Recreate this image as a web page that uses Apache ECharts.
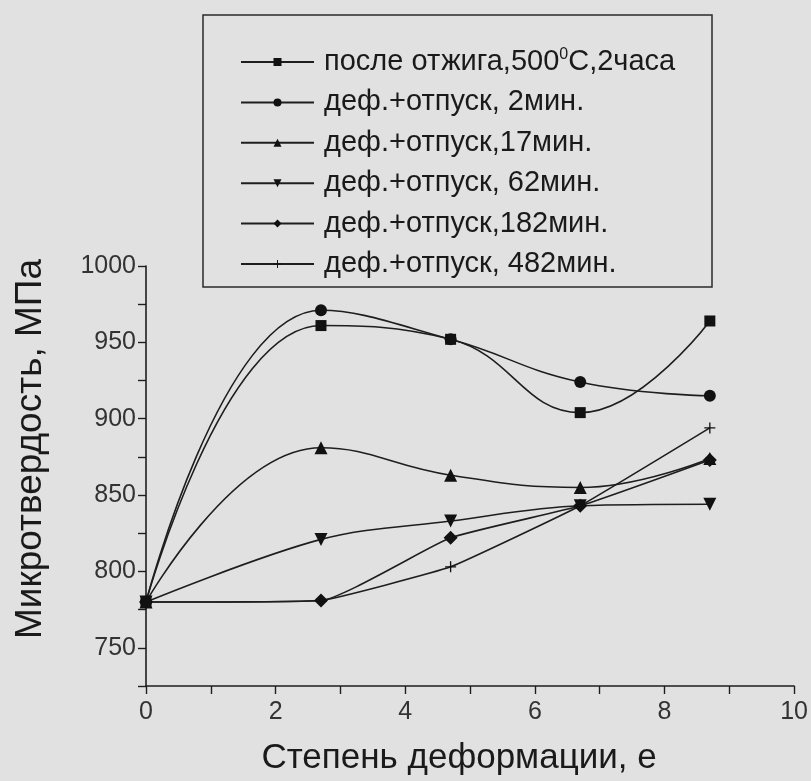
<!DOCTYPE html>
<html>
<head>
<meta charset="utf-8">
<script src="https://cdn.jsdelivr.net/npm/echarts@6/dist/echarts.min.js"></script>
<style>
html,body{margin:0;padding:0;background:#e1e1e1;}
#chart{width:811px;height:781px;}
</style>
</head>
<body>
<div id="chart"></div>
<script>
// Strain values (x)
const strain = [0, 2.7, 4.7, 6.7, 8.7];
// Series names
const seriesNames = [
  'после отжига,500°C,2часа',
  'деф.+отпуск, 2мин.',
  'деф.+отпуск,17мин.',
  'деф.+отпуск, 62мин.',
  'деф.+отпуск,182мин.',
  'деф.+отпуск, 482мин.'
];
// Microhardness values, MPa
const annealed   = [780, 961, 952, 904, 964];
const temper2    = [780, 971, 952, 924, 915];
const temper17   = [780, 881, 863, 855, 874];
const temper62   = [780, 821, 833, 843, 844];
const temper182  = [780, 781, 822, 843, 873];
const temper482  = [780, 781, 803, 843, 894];
const yTicks = [750, 800, 850, 900, 950, 1000];
const xTicks = [0, 2, 4, 6, 8, 10];

const plusPath = 'path://M4.4,0 L5.6,0 L5.6,4.4 L10,4.4 L10,5.6 L5.6,5.6 L5.6,10 L4.4,10 L4.4,5.6 L0,5.6 L0,4.4 L4.4,4.4 Z';
const symbols = ['rect', 'circle', 'triangle', 'triangle', 'diamond', plusPath];
const rotates = [0, 0, 0, 180, 0, 0];
const sizes = [11, 12, 13, 13, 14, 11];
const smooths = [0.45, 0.45, 0.45, 0.35, 0.15, 0.1];
const values = [annealed, temper2, temper17, temper62, temper182, temper482];

const FONT = 'Liberation Sans, Arial, sans-serif';

const series = values.map((vals, i) => ({
  name: seriesNames[i],
  type: 'line',
  smooth: smooths[i],
  data: strain.map((x, j) => [x, vals[j]]),
  symbol: symbols[i],
  symbolRotate: rotates[i],
  symbolSize: sizes[i],
  showSymbol: true,
  lineStyle: {color: '#1e1e1e', width: 1.6},
  itemStyle: {color: '#111'},
  z: 3
}));

const chart = echarts.init(document.getElementById('chart'), null, {renderer: 'canvas'});
chart.setOption({
  backgroundColor: '#e1e1e1',
  animation: false,
  textStyle: {fontFamily: FONT},
  grid: {left: 146, right: 14, top: 266, bottom: 91},
  graphic: [{
    type: 'rect',
    shape: {x: 203, y: 15, width: 509, height: 272},
    style: {fill: 'none', stroke: '#2a2a2a', lineWidth: 1.5},
    z: 1
  }],
  legend: {
    orient: 'vertical',
    left: 240,
    top: 47,
    padding: 0,
    itemWidth: 73,
    itemHeight: 10,
    itemGap: 10.4,
    data: seriesNames,
    formatter: function (name) {
      if (name.indexOf('500°C') >= 0) {
        return '{n|после отжига,500}{s|0}{n|C,2часа}';
      }
      return '{n|' + name + '}';
    },
    textStyle: {
      fontFamily: FONT,
      fontSize: 29,
      lineHeight: 30,
      color: '#1a1a1a',
      padding: [0, 0, 0, 5],
      rich: {
        n: {fontSize: 29, lineHeight: 30, color: '#1a1a1a', fontFamily: FONT},
        s: {fontSize: 16, lineHeight: 16, verticalAlign: 'top', color: '#1a1a1a', fontFamily: FONT}
      }
    }
  },
  xAxis: {
    type: 'value',
    min: 0,
    max: 10,
    interval: 1,
    name: 'Степень деформации, е',
    nameLocation: 'middle',
    nameGap: 55,
    nameTextStyle: {fontSize: 35, color: '#1a1a1a', padding: [0, 22, 0, 0]},
    axisLine: {lineStyle: {color: '#1e1e1e', width: 1.6}},
    axisTick: {show: true, inside: false, length: 8, lineStyle: {color: '#1e1e1e', width: 1.4}},
    axisLabel: {
      fontSize: 25,
      color: '#333',
      margin: 14,
      formatter: v => (xTicks.indexOf(v) >= 0 ? String(v) : '')
    },
    splitLine: {show: false}
  },
  yAxis: {
    type: 'value',
    min: 725,
    max: 1000,
    interval: 25,
    name: 'Микротвердость, МПа',
    nameLocation: 'middle',
    nameGap: 97,
    nameRotate: 90,
    nameTextStyle: {fontSize: 37, color: '#1a1a1a', padding: [0, 0, 0, 54]},
    axisLine: {show: true, lineStyle: {color: '#1e1e1e', width: 1.6}},
    axisTick: {show: true, inside: false, length: 8, lineStyle: {color: '#1e1e1e', width: 1.4}},
    axisLabel: {
      fontSize: 25,
      color: '#333',
      margin: 10,
      formatter: v => (yTicks.indexOf(v) >= 0 ? String(v) : '')
    },
    splitLine: {show: false}
  },
  series: series
});
</script>
</body>
</html>
